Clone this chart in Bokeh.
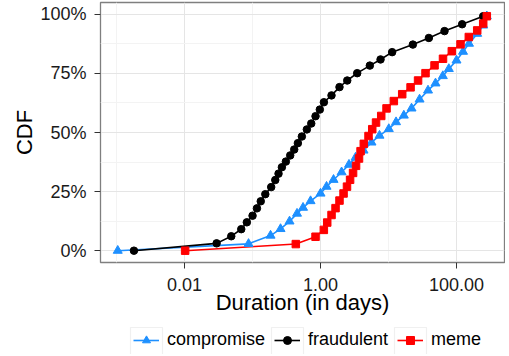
from bokeh.plotting import figure
from bokeh.models import FixedTicker, Legend, LegendItem, BoxAnnotation
from bokeh.layouts import column
from bokeh.embed import file_html
from bokeh.resources import INLINE

# ---- data (x: duration in days, y: CDF in %) ----
compromise_x = [0.00104, 0.0873, 0.184, 0.258, 0.350, 0.451, 0.553, 0.713, 1.0, 1.225,
                1.553, 2.04, 2.62, 3.27, 4.29, 5.62, 7.37, 10.1, 12.9, 16.8,
                21.8, 28.6, 38.1, 49.1, 62.9, 77.1, 100, 124.7, 152.7, 201.5, 247, 279]
compromise_y = [0, 2.9, 6.4, 9.2, 12.4, 15.7, 18.2, 21.0, 24.2, 27.1,
                30.0, 33.2, 36.4, 39.4, 42.4, 45.8, 48.7, 51.5, 54.4, 57.2,
                60.2, 64.0, 67.8, 70.8, 73.9, 76.9, 80.5, 84.2, 87.6, 91.8, 95.3, 99.2]

fraudulent_x = [0.0018, 0.0296, 0.0486, 0.0682, 0.0824, 0.100, 0.116, 0.132, 0.154, 0.188,
                0.216, 0.241, 0.270, 0.309, 0.358, 0.410, 0.464, 0.531, 0.629, 0.730,
                0.844, 0.976, 1.12, 1.45, 1.90, 2.47, 3.46, 5.31, 7.63, 11.3,
                22.8, 39.2, 66.6, 121, 247]
fraudulent_y = [0, 3.1, 6.1, 9.1, 12.0, 14.8, 17.9, 20.9, 23.9, 26.9,
                29.9, 32.6, 35.3, 37.7, 40.3, 42.8, 45.5, 48.3, 51.3, 53.8,
                56.9, 59.7, 62.8, 65.7, 69.2, 72.0, 75.1, 78.3, 80.9, 84.0,
                87.2, 90.0, 92.9, 95.8, 99.2]

meme_x = [0.0102, 0.433, 0.844, 1.118, 1.254, 1.451, 1.662, 1.90, 2.18, 2.45,
          2.72, 3.01, 3.33, 3.68, 3.88, 4.33, 5.08, 5.76, 6.55, 7.81,
          9.35, 11.97, 15.9, 21.1, 27.2, 35.0, 47.5, 63.3, 85.3, 114.5,
          151.7, 201.6, 247, 279]
meme_y = [0, 2.8, 5.9, 8.8, 11.9, 15.1, 18.0, 21.2, 24.2, 27.1,
          30.0, 32.9, 35.9, 39.0, 42.1, 45.2, 48.5, 51.4, 54.2, 57.0,
          60.2, 63.3, 66.2, 69.1, 72.0, 75.1, 78.4, 81.2, 84.4, 87.3,
          90.4, 93.2, 96.1, 99.2]

series_names = ["compromise", "fraudulent", "meme"]

x_ticks = [0.01, 1, 100]
x_tick_labels = ["0.01", "1.00", "100.00"]
x_minor = [0.001, 0.1, 10, 1000]
y_ticks = [0, 25, 50, 75, 100]
y_tick_labels = ["0%", "25%", "50%", "75%", "100%"]
y_minor = [12.5, 37.5, 62.5, 87.5]

FONT = "Liberation Sans"
BLUE = "#1E90FF"
BLACK = "black"
RED = "#FF0000"

p = figure(width=505, height=326, x_axis_type="log",
           x_range=(0.00058, 508), y_range=(-5, 105),
           output_backend="svg", toolbar_location=None,
           min_border_left=100, min_border_right=1, min_border_top=2, min_border_bottom=64,
           background_fill_color="white", border_fill_color="white")

p.outline_line_color = "#7f7f7f"
p.outline_line_width = 1.3

# grids
p.xgrid.ticker = FixedTicker(ticks=x_ticks, minor_ticks=x_minor)
p.ygrid.ticker = FixedTicker(ticks=y_ticks, minor_ticks=y_minor)
for g in (p.xgrid[0], p.ygrid[0]):
    g.grid_line_color = "#e5e5e5"
    g.grid_line_width = 1
    g.minor_grid_line_color = "#f3f3f3"
    g.minor_grid_line_width = 1

# axes
p.xaxis.ticker = FixedTicker(ticks=x_ticks, minor_ticks=[])
p.yaxis.ticker = FixedTicker(ticks=y_ticks, minor_ticks=[])
p.xaxis.major_label_overrides = {t: l for t, l in zip(x_ticks, x_tick_labels)}
p.yaxis.major_label_overrides = {t: l for t, l in zip(y_ticks, y_tick_labels)}
p.xaxis.axis_label = "Duration (in days)"
p.yaxis.axis_label = "CDF"
for ax in (p.xaxis[0], p.yaxis[0]):
    ax.axis_line_color = None
    ax.major_tick_line_color = "#333333"
    ax.major_tick_line_width = 1
    ax.major_tick_out = 6
    ax.major_tick_in = 0
    ax.minor_tick_out = 0
    ax.minor_tick_in = 0
    ax.major_label_text_font = FONT
    ax.major_label_text_font_size = "18px"
    ax.major_label_text_color = "#1a1a1a"
    ax.axis_label_text_font = FONT
    ax.axis_label_text_font_size = "22px"
    ax.axis_label_text_font_style = "normal"
    ax.axis_label_text_color = "black"
p.xaxis.major_label_standoff = 9
p.xaxis.axis_label_standoff = -4
p.yaxis.major_label_standoff = 8
p.yaxis.axis_label_standoff = 0

p.line(compromise_x, compromise_y, line_color=BLUE, line_width=1.6)
p.line(fraudulent_x, fraudulent_y, line_color=BLACK, line_width=1.6)
p.line(meme_x, meme_y, line_color=RED, line_width=1.6)
p.scatter(compromise_x, compromise_y, marker="triangle", size=9,
          fill_color=BLUE, line_color=BLUE)
p.scatter(fraudulent_x, fraudulent_y, marker="circle", size=7.5,
          fill_color=BLACK, line_color=BLACK)
p.scatter(meme_x, meme_y, marker="square", size=7.5,
          fill_color=RED, line_color=RED)

# ---- legend strip (separate figure below the plot) ----
lg = figure(width=505, height=28, x_range=(0, 1), y_range=(0, 1),
            output_backend="svg", toolbar_location=None,
            x_axis_location=None, y_axis_location=None,
            min_border_left=0, min_border_right=0, min_border_top=0, min_border_bottom=0,
            background_fill_color="white", border_fill_color="white")
lg.outline_line_color = None
lg.xgrid.visible = False
lg.ygrid.visible = False

# grey key boxes (screen pixels relative to the strip's frame, layout only)
for kx in (30, 171, 294):
    lg.add_layout(BoxAnnotation(left=kx, right=kx + 32, top=27, bottom=-10,
                                left_units="screen", right_units="screen",
                                top_units="screen", bottom_units="screen",
                                fill_color="white", fill_alpha=1,
                                line_color="#cccccc", line_width=1.2,
                                editable=False))

NAN = float("nan")
items = []
for name, col, mk in zip(series_names, [BLUE, BLACK, RED], ["triangle", "circle", "square"]):
    ln = lg.line([NAN], [NAN], line_color=col, line_width=1.6)
    mr = lg.scatter([NAN], [NAN], marker=mk, fill_color=col, line_color=col)
    items.append(LegendItem(label=name, renderers=[ln, mr]))

legend = Legend(items=items, orientation="horizontal", location=(33, 4),
                label_text_font=FONT, label_text_font_size="18px", label_text_color="black",
                glyph_width=26, glyph_height=20, spacing=9, label_standoff=8,
                padding=0, margin=0, border_line_color=None, background_fill_alpha=0)
lg.add_layout(legend, "center")

layout = column(p, lg, spacing=0)
open("out.html", "w").write(file_html(layout, INLINE))
